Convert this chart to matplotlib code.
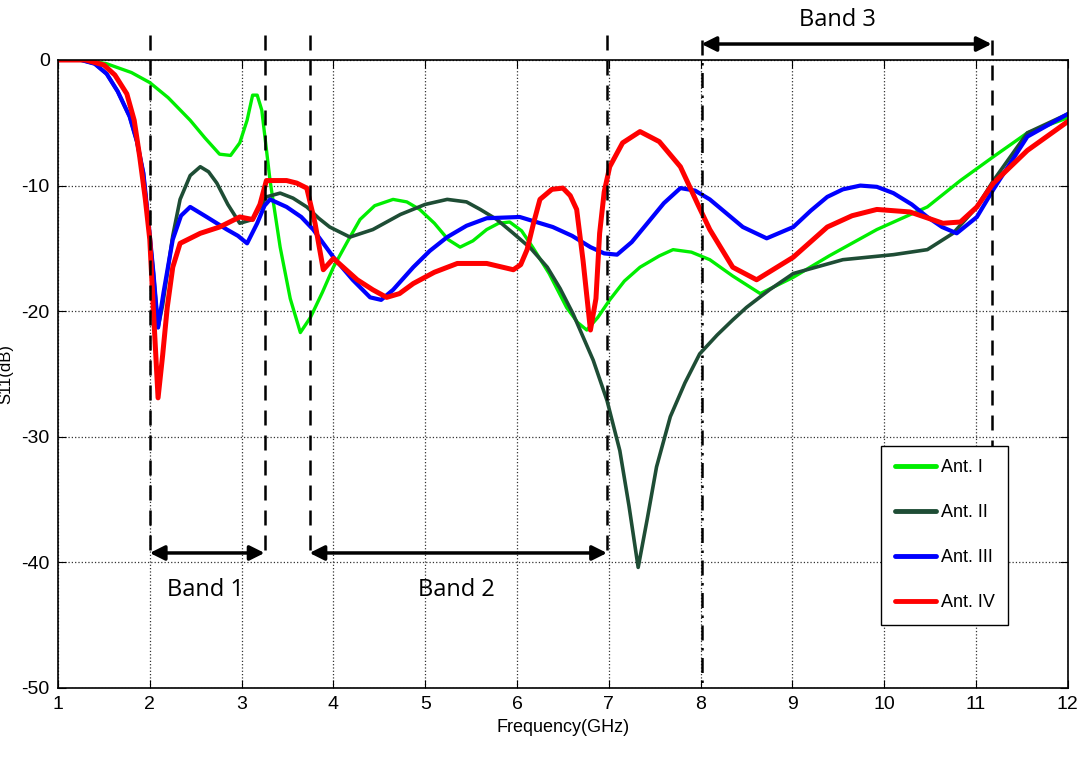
import matplotlib
matplotlib.use("Agg")
import matplotlib.pyplot as plt
import numpy as np

plt.rcParams['font.family'] = ['Liberation Sans Narrow', 'Liberation Sans', 'DejaVu Sans']
plt.rcParams['axes.unicode_minus'] = False

# ---- data (frequency in GHz, S11 in dB) ----
f1 = [1.0, 1.3, 1.53, 1.8, 2.0, 2.2, 2.44, 2.6, 2.76, 2.88, 2.98, 3.06, 3.12, 3.17, 3.22, 3.31, 3.42, 3.53,
      3.64, 3.75, 3.88, 4.0, 4.15, 4.29, 4.45, 4.65, 4.8, 4.94, 5.1, 5.25, 5.38, 5.52, 5.67, 5.8, 5.92, 6.05,
      6.17, 6.35, 6.54, 6.66, 6.76, 6.88, 7.01, 7.17, 7.34, 7.55, 7.7, 7.9, 8.1, 8.35, 8.65, 9.01, 9.4,
      9.92, 10.47, 10.83, 11.19, 11.56, 12.0]
s1 = [0.0, 0.0, -0.3, -1.0, -1.8, -3.0, -4.8, -6.2, -7.5, -7.6, -6.6, -4.8, -2.8, -2.8, -4.0, -9.6, -14.9, -19.0,
      -21.7, -20.5, -18.5, -16.5, -14.5, -12.7, -11.6, -11.1, -11.3, -11.9, -13.0, -14.3, -14.9, -14.4, -13.5, -13.0, -12.9, -13.6,
      -14.9, -17.0, -19.7, -20.9, -21.5, -20.5, -19.1, -17.6, -16.5, -15.6, -15.1, -15.3, -15.9, -17.2, -18.6, -17.3, -15.6,
      -13.5, -11.7, -9.6, -7.7, -5.8, -4.6]

f2 = [1.0, 1.25, 1.4, 1.53, 1.65, 1.78, 1.86, 1.93, 1.98, 2.04, 2.09, 2.14, 2.19, 2.25, 2.33, 2.44, 2.55, 2.64, 2.73,
      2.85, 2.98, 3.12, 3.27, 3.42, 3.56, 3.71, 3.84, 3.96, 4.18, 4.43, 4.73, 5.0, 5.24, 5.45, 5.6, 5.78, 5.96,
      6.15, 6.33, 6.47, 6.61, 6.83, 6.98, 7.12, 7.22, 7.32, 7.42, 7.52, 7.67, 7.83, 7.99, 8.18, 8.35, 8.5,
      8.75, 9.01, 9.55, 10.1, 10.47, 10.75, 11.01, 11.19, 11.56, 12.0]
s2 = [0.0, 0.0, -0.3, -1.1, -2.5, -4.5, -6.5, -9.0, -12.5, -17.0, -21.3, -19.5, -17.0, -14.0, -11.1, -9.2, -8.5, -8.9, -9.8,
      -11.5, -13.0, -12.7, -10.9, -10.6, -11.0, -11.7, -12.6, -13.3, -14.1, -13.5, -12.3, -11.5, -11.1, -11.3, -11.9, -12.7, -13.8,
      -15.0, -16.5, -18.2, -20.2, -23.9, -27.1, -31.1, -35.5, -40.4, -36.5, -32.4, -28.4, -25.7, -23.4, -21.9, -20.7, -19.7,
      -18.3, -17.0, -15.9, -15.5, -15.1, -13.8, -11.7, -9.6, -5.8, -4.3]

f3 = [1.0, 1.25, 1.4, 1.53, 1.65, 1.78, 1.86, 1.93, 1.98, 2.04, 2.09, 2.15, 2.25, 2.34, 2.44, 2.62, 2.84, 2.96, 3.06,
      3.17, 3.25, 3.31, 3.49, 3.65, 3.78, 4.0, 4.21, 4.4, 4.52, 4.65, 4.87, 5.05, 5.24, 5.45, 5.67, 6.03, 6.39,
      6.6, 6.8, 6.95, 7.09, 7.25, 7.42, 7.6, 7.78, 7.94, 8.1, 8.28, 8.46, 8.72, 9.01, 9.2, 9.38, 9.55, 9.74,
      9.92, 10.1, 10.3, 10.47, 10.63, 10.79, 11.01, 11.19, 11.56, 12.0]
s3 = [0.0, 0.0, -0.3, -1.1, -2.5, -4.5, -6.5, -9.0, -12.5, -17.0, -21.3, -18.5, -14.3, -12.4, -11.7, -12.5, -13.5, -14.0, -14.6,
      -13.0, -11.6, -11.1, -11.7, -12.5, -13.5, -15.7, -17.5, -18.9, -19.1, -18.3, -16.5, -15.2, -14.1, -13.2, -12.6, -12.5, -13.3,
      -14.0, -14.9, -15.4, -15.5, -14.5, -13.0, -11.4, -10.2, -10.4, -11.1, -12.2, -13.3, -14.2, -13.3, -12.0, -10.9, -10.3, -10.0,
      -10.1, -10.6, -11.5, -12.5, -13.3, -13.8, -12.5, -10.3, -6.1, -4.3]

f4 = [1.0, 1.3, 1.5, 1.62, 1.75, 1.83, 1.89, 1.95, 2.0, 2.04, 2.09, 2.14, 2.19, 2.25, 2.33, 2.44, 2.55, 2.76, 2.98,
      3.12, 3.2, 3.27, 3.49, 3.6, 3.71, 3.8, 3.89, 4.0, 4.26, 4.43, 4.58, 4.72, 4.87, 5.1, 5.35, 5.67, 5.96,
      6.04, 6.11, 6.18, 6.25, 6.38, 6.5, 6.58, 6.65, 6.72, 6.8, 6.86, 6.9, 6.95, 7.01, 7.15, 7.34, 7.55, 7.78,
      7.85, 7.97, 8.1, 8.35, 8.61, 9.01, 9.38, 9.65, 9.92, 10.28, 10.64, 10.83, 11.01, 11.19, 11.56, 12.0]
s4 = [0.0, 0.0, -0.4, -1.2, -2.7, -4.8, -7.7, -11.0, -14.3, -20.0, -26.9, -23.5, -19.7, -16.5, -14.6, -14.2, -13.8, -13.3, -12.5,
      -12.7, -11.5, -9.6, -9.6, -9.8, -10.2, -13.0, -16.7, -15.8, -17.5, -18.3, -18.9, -18.6, -17.8, -16.9, -16.2, -16.2, -16.7,
      -16.3, -15.1, -13.0, -11.1, -10.3, -10.2, -10.8, -11.9, -16.0, -21.5, -19.0, -13.8, -10.5, -8.5, -6.6, -5.7, -6.5, -8.5,
      -9.6, -11.5, -13.5, -16.5, -17.5, -15.7, -13.3, -12.4, -11.9, -12.1, -13.0, -12.9, -11.7, -9.8, -7.2, -4.9]

labels = ['Ant. I', 'Ant. II', 'Ant. III', 'Ant. IV']
colors = ['#00ee00', '#1e4d35', '#0000ff', '#ff0000']
widths = [2.4, 2.6, 3.0, 3.6]

# band markers (GHz)
band_edges = [(2.0, 3.25), (3.74, 6.98), (8.01, 11.17)]
band_names = ['Band 1', 'Band 2', 'Band 3']

fig = plt.figure(figsize=(10.8, 7.63), dpi=100)
ax = fig.add_axes([0.0537, 0.0983, 0.935, 0.8231])

for f, s, lab, c, w in zip([f1, f2, f3, f4], [s1, s2, s3, s4], labels, colors, widths):
    ax.plot(f, s, color=c, lw=w, label=lab, solid_joinstyle='round', solid_capstyle='round')

ax.set_xlim(1, 12)
ax.set_ylim(-50, 0)
ax.set_xticks(range(1, 13))
ax.set_yticks(range(-50, 1, 10))
ax.grid(True, color='black', linestyle=':', linewidth=0.9, alpha=0.8)
ax.tick_params(direction='in', top=True, right=True, length=6, labelsize=14, pad=6)
for sp in ax.spines.values():
    sp.set_linewidth(1.2)

ax.set_xlabel('Frequency(GHz)', fontsize=13, labelpad=4)
ax.set_ylabel('S11(dB)', fontsize=12, family=['Liberation Sans', 'DejaVu Sans'])
ax.yaxis.set_label_coords(-0.044, 0.5)

# band boundaries and arrows
dash = dict(color='black', lw=1.8, linestyle=(0, (6, 4)), clip_on=False, zorder=5)
for (a, b), name in zip(band_edges[:2], band_names[:2]):
    ax.plot([a, a], [2.0, -39.4], **dash)
    ax.plot([b, b], [2.0, -39.4], **dash)
    ax.annotate('', xy=(b, -39.25), xytext=(a, -39.25),
                arrowprops=dict(arrowstyle='<|-|>', color='black', lw=2.5, mutation_scale=22,
                                shrinkA=0, shrinkB=0))
    ax.text((a + b) / 2 - 0.02, -42.2, name, ha='center', va='center', fontsize=17,
            family=['Open Sans', 'DejaVu Sans'])

a, b = band_edges[2]
ax.plot([a, a], [1.6, -50], color='black', lw=1.8, linestyle=(0, (6, 3, 1, 3)), clip_on=False, zorder=5)
ax.plot([b, b], [1.6, -39.0], **dash)
ax.annotate('', xy=(b, 1.27), xytext=(a, 1.27), annotation_clip=False,
            arrowprops=dict(arrowstyle='<|-|>', color='black', lw=2.5, mutation_scale=22,
                            shrinkA=0, shrinkB=0))
ax.text((a + b) / 2 - 0.1, 3.2, band_names[2], ha='center', va='center', fontsize=17,
        family=['Open Sans', 'DejaVu Sans'], clip_on=False)

leg = ax.legend(loc='upper left', bbox_to_anchor=(0.815, 0.386), fontsize=13, fancybox=False,
                edgecolor='black', framealpha=1, handlelength=2.3, handletextpad=0.25,
                labelspacing=1.55, borderpad=0.75, borderaxespad=0.0)
leg.get_frame().set_linewidth(1.0)
for h in leg.get_lines():
    h.set_linewidth(3.5)

fig.savefig('out.png', dpi=100)
